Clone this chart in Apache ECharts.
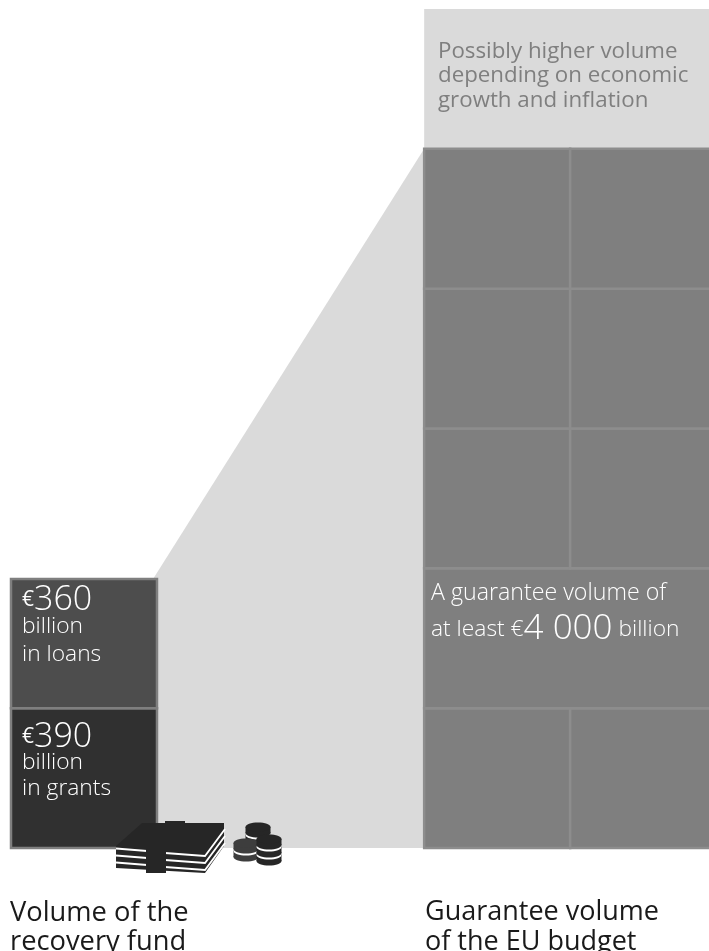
<!DOCTYPE html>
<html><head><meta charset="utf-8">
<style>html,body{margin:0;padding:0;background:#fff;overflow:hidden}#c{width:709px;height:951px}</style>
<script src="https://cdn.jsdelivr.net/npm/echarts@6/dist/echarts.min.js"></script>
</head><body><div id="c"></div>
<script>
const grantsBillion = 390;
const loansBillion = 360;
const guaranteeBillion = 4000;
const fundBars = [[0, 1, 0, 390, '#303030'], [0, 1, 390, 750, '#4d4d4d']];
const guaranteeCols = [2.83, 3.83, 4.83];
const guaranteeRows = [0, 390, 780, 1170, 1560, 1950];
const upsideRow = [1950, 2340];
const funnelStart = 0.973;
const F = '"Open Sans"';
const INK = '#262626';
const chart = echarts.init(document.getElementById('c'), null, {renderer:'canvas'});
const cells = [];
for (let r = 0; r < 5; r++) {
  if (r === 1) { cells.push([guaranteeCols[0], guaranteeCols[2], guaranteeRows[r], guaranteeRows[r+1]]); continue; }
  for (let c = 0; c < 2; c++) cells.push([guaranteeCols[c], guaranteeCols[c+1], guaranteeRows[r], guaranteeRows[r+1]]);
}
function rectItem(api, d, style) {
  const a = api.coord([d[0], d[3]]), b = api.coord([d[1], d[2]]);
  return {type:'rect', shape:{x:a[0], y:a[1], width:b[0]-a[0], height:b[1]-a[1]}, style};
}
function notesIcon(){
  const out=[];
  out.push({type:'polygon',shape:{points:[[142,823],[224,823],[224,846],[205,873],[116,868],[116,846]]},style:{fill:INK}});
  [0,7,14].forEach(dy=>{
    out.push({type:'polyline',shape:{points:[[116,848.5+dy],[147,851+dy]]},style:{stroke:'#fff',lineWidth:1.8,fill:'none'}});
    out.push({type:'polyline',shape:{points:[[165,853+dy],[205,856+dy],[225,829+dy]]},style:{stroke:'#fff',lineWidth:1.8,fill:'none'}});
  });
  out.push({type:'rect',shape:{x:146,y:846,width:20,height:27},style:{fill:INK}});
  out.push({type:'rect',shape:{x:165,y:821,width:20,height:4},style:{fill:INK}});
  return out;
}
function coin(cx,topCy,n,fill){
  const out=[];
  const rx=12.5, ry=4.5, pitch=8;
  for(let i=n-1;i>=0;i--){
    const y=topCy+i*pitch;
    if(i<n-1) out.push({type:'ellipse',shape:{cx,cy:y+8,rx,ry},style:{fill:'#fff'}});
    out.push({type:'ellipse',shape:{cx,cy:y+6,rx,ry},style:{fill}});
    out.push({type:'rect',shape:{x:cx-rx,y,width:rx*2,height:6},style:{fill}});
    out.push({type:'ellipse',shape:{cx,cy:y,rx,ry},style:{fill}});
  }
  return out;
}
const amountText = (v, big, x, y, small) => ({type:'text',x,y,style:{text:'{s|€}{b|'+v+'}',rich:{s:{font:'400 '+small+'px '+F,fill:'#fff'},b:{font:'300 '+big+'px '+F,fill:'#fff'}},fill:'#fff'}});
const txt = (t,x,y,size,fill,lh,w) => ({type:'text',x,y,style:{text:t,font:(w||300)+' '+size+'px '+F,fill,lineHeight:lh}});
chart.setOption({
  animation:false,
  grid:{left:11,right:0,top:0,bottom:103},
  xAxis:{type:'value',min:0,max:4.781,show:false},
  yAxis:{type:'value',min:0,max:2365,show:false},
  series:[
    {type:'custom',silent:true,clip:false,coordinateSystem:'cartesian2d',z:1,data:[[funnelStart,750,guaranteeCols[0],guaranteeRows[5]]],
     renderItem(p,api){const c=(x,y)=>api.coord([x,y]);return {type:'polygon',shape:{points:[c(funnelStart,750),c(guaranteeCols[0],guaranteeRows[5]),c(guaranteeCols[0],0),c(funnelStart,0)]},style:{fill:'#dadada'}};}},
    {type:'custom',silent:true,clip:false,z:1,data:[[guaranteeCols[0],guaranteeCols[2],upsideRow[0],upsideRow[1]]],
     renderItem(p,api){return rectItem(api,[api.value(0),api.value(1),api.value(2),api.value(3)],{fill:'#dadada'});}},
    {type:'custom',silent:true,clip:false,z:2,data:cells,
     renderItem(p,api){return rectItem(api,[api.value(0),api.value(1),api.value(2),api.value(3)],{fill:'#7f7f7f',stroke:'#8d8d8d',lineWidth:2.5});}},
    {type:'custom',silent:true,clip:false,z:3,data:fundBars,
     renderItem(p,api){const d=fundBars[p.dataIndex];return rectItem(api,d,{fill:d[4],stroke:'#7f7f7f',lineWidth:2.5});}}
  ],
  graphic:[
    amountText(loansBillion,34,22,583,21),
    txt('billion\nin loans',22,613,22.8,'#fff',27.5),
    amountText(grantsBillion,34,22,720,21),
    txt('billion\nin grants',22,750,22.8,'#fff',25.5),
    txt('Possibly higher volume\ndepending on economic\ngrowth and inflation',438,39,22.3,'#7f7f7f',24.5,400),
    txt('A guarantee volume of',431,579,23.2,'#fff',28),
    {type:'text',x:431,y:612,style:{text:'{s|at least €}{b|'+guaranteeBillion.toString().replace(/(\d)(\d{3})$/,'$1 $2')+'}{s| billion}',rich:{s:{font:'300 22.8px '+F,fill:'#fff'},b:{font:'300 35px '+F,fill:'#fff'}},fill:'#fff'}},
    txt('Volume of the\nrecovery fund',10,898,27.3,'#1a1a1a',29.5,400),
    txt('Guarantee volume\nof the EU budget',425,898,27,'#1a1a1a',29.5,400),
    ...notesIcon(),
    ...coin(258,827,2,INK),...coin(246,843,2,'#3d3d3d'),...coin(269,839,3,INK)
  ].map(g=>Object.assign({z:10},g))
});
</script></body></html>
